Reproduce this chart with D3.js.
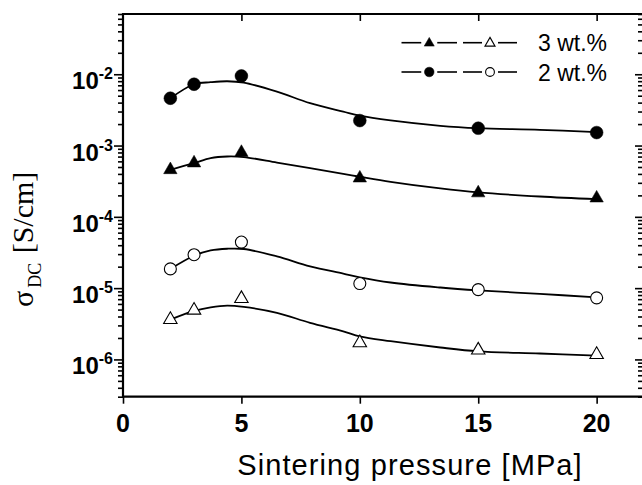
<!DOCTYPE html>
<html>
<head>
<meta charset="utf-8">
<script src="https://cdn.jsdelivr.net/npm/d3@7"></script>
<style>
  html, body { margin: 0; padding: 0; background: #fff; }
  svg { display: block; }
</style>
</head>
<body>
<div id="chart"></div>
<script>
// Sintering pressure vs DC conductivity (log scale)

const pressure = [2, 3, 5, 10, 15, 20];

// measured points
const wt2Filled = [4.61e-3, 7.24e-3, 9.47e-3, 2.24e-3, 1.75e-3, 1.52e-3];
const wt3Filled = [4.57e-4, 5.68e-4, 7.98e-4, 3.49e-4, 2.16e-4, 1.83e-4];
const wt2Open = [1.86e-5, 2.94e-5, 4.43e-5, 1.16e-5, 9.53e-6, 7.3e-6];
const wt3Open = [3.62e-6, 4.89e-6, 7.13e-6, 1.71e-6, 1.35e-6, 1.17e-6];

// fitted curves
const fitPressure = [2, 3, 3.7, 4.4, 5.1, 6.5, 7.9, 9.3, 10, 11.3, 13.4, 15, 17.6, 20];
const wt2FilledFit = [4.61e-3, 7.24e-3, 7.73e-3, 7.98e-3, 7.62e-3, 5.70e-3, 3.93e-3, 2.99e-3, 2.62e-3, 2.25e-3, 1.89e-3, 1.75e-3, 1.66e-3, 1.54e-3];
const wt3FilledFit = [4.57e-4, 5.68e-4, 6.67e-4, 7.02e-4, 6.89e-4, 5.78e-4, 4.82e-4, 4.0e-4, 3.65e-4, 3.1e-4, 2.5e-4, 2.2e-4, 1.93e-4, 1.77e-4];
const wt2OpenFit = [1.86e-5, 2.85e-5, 3.38e-5, 3.57e-5, 3.54e-5, 2.79e-5, 2.02e-5, 1.6e-5, 1.42e-5, 1.2e-5, 1.02e-5, 9.3e-6, 8.3e-6, 7.43e-6];
const wt3OpenFit = [3.62e-6, 4.8e-6, 5.38e-6, 5.69e-6, 5.45e-6, 4.5e-6, 3.26e-6, 2.48e-6, 2.1e-6, 1.8e-6, 1.47e-6, 1.3e-6, 1.21e-6, 1.13e-6];

const xTicks = [0, 5, 10, 15, 20];
const yMajorExp = [-6, -5, -4, -3, -2];
const legendLabels = ['3 wt.%', '2 wt.%'];

const width = 642, height = 485;
const plot = { left: 123, right: 644, top: 14, bottom: 396.7 };

const svg = d3.select('#chart').append('svg')
    .attr('width', width)
    .attr('height', height);

const x = d3.scaleLinear().domain([0, 22]).range([plot.left, plot.right]);
const y = d3.scaleLog().domain([3e-7, 7e-2]).range([plot.bottom, plot.top]);

const sans = 'Liberation Sans, Arial, sans-serif';
const serif = 'Liberation Serif, Times New Roman, serif';

// ---- axes ----
const yMinor = y.ticks().filter(v => Math.abs(Math.log10(v) - Math.round(Math.log10(v))) > 1e-6);
const yMajor = yMajorExp.map(e => Math.pow(10, e));

function styleAxis(g) {
    g.select('.domain').remove();
    g.selectAll('line').attr('stroke', '#000').attr('stroke-width', 1.6);
}

// left minor + major
svg.append('g').attr('transform', `translate(${plot.left},0)`)
    .call(d3.axisLeft(y).tickValues(yMinor).tickSize(5).tickFormat(''))
    .call(styleAxis);
svg.append('g').attr('transform', `translate(${plot.left},0)`)
    .call(d3.axisLeft(y).tickValues(yMajor).tickSize(9).tickFormat(''))
    .call(styleAxis);

// right (inward)
svg.append('g').attr('transform', `translate(${plot.right - 2},0)`)
    .call(d3.axisLeft(y).tickValues(yMinor).tickSize(4).tickFormat(''))
    .call(styleAxis);
svg.append('g').attr('transform', `translate(${plot.right - 2},0)`)
    .call(d3.axisLeft(y).tickValues(yMajor).tickSize(7).tickFormat(''))
    .call(styleAxis);

// bottom
svg.append('g').attr('transform', `translate(0,${plot.bottom})`)
    .call(d3.axisBottom(x).tickValues(xTicks).tickSize(7).tickFormat(''))
    .call(styleAxis);
// top (inward)
svg.append('g').attr('transform', `translate(0,${plot.top})`)
    .call(d3.axisBottom(x).tickValues(xTicks.slice(1)).tickSize(7).tickFormat(''))
    .call(styleAxis);

// frame lines
svg.append('line').attr('x1', plot.left).attr('x2', plot.left).attr('y1', plot.top - 1).attr('y2', plot.bottom + 1)
    .attr('stroke', '#000').attr('stroke-width', 2.2);
svg.append('line').attr('x1', plot.left - 1).attr('x2', plot.right).attr('y1', plot.bottom).attr('y2', plot.bottom)
    .attr('stroke', '#000').attr('stroke-width', 2.2);
svg.append('line').attr('x1', plot.left - 1).attr('x2', plot.right).attr('y1', plot.top).attr('y2', plot.top)
    .attr('stroke', '#000').attr('stroke-width', 2.2);
svg.append('line').attr('x1', plot.right).attr('x2', plot.right).attr('y1', plot.top).attr('y2', plot.bottom)
    .attr('stroke', '#000').attr('stroke-width', 2.2);

// x tick labels
svg.selectAll('.xlab').data(xTicks).enter().append('text')
    .attr('class', 'xlab')
    .attr('x', d => x(d))
    .attr('y', 432)
    .attr('text-anchor', 'middle')
    .attr('font-family', sans)
    .attr('font-weight', 'bold')
    .attr('font-size', '25px')
    .text(d => d);

// y tick labels 10^n
const ylab = svg.selectAll('.ylab').data(yMajorExp).enter().append('text')
    .attr('class', 'ylab')
    .attr('x', 113)
    .attr('y', d => y(Math.pow(10, d)) + 15)
    .attr('text-anchor', 'end')
    .attr('font-family', sans)
    .attr('font-weight', 'bold');
ylab.append('tspan').attr('font-size', '24px').text('10');
ylab.append('tspan').attr('font-size', '16px').attr('dy', -10).text(d => d);

// axis titles
svg.append('text')
    .attr('x', 410)
    .attr('y', 475)
    .attr('text-anchor', 'middle')
    .attr('font-family', sans)
    .attr('font-size', '29px')
    .attr('letter-spacing', '1.1px')
    .text('Sintering pressure [MPa]');

const yt = svg.append('text')
    .attr('transform', 'translate(33,307) rotate(-90)')
    .attr('font-family', serif)
    .attr('font-size', '30px');
yt.append('tspan').text('σ');
yt.append('tspan').attr('font-size', '18px').attr('dx', 3).attr('dy', 8).text('DC');
yt.append('tspan').attr('dy', -8).attr('dx', 2).text(' [S/cm]');

// ---- curves ----
const line = d3.line()
    .x(d => x(d[0]))
    .y(d => y(d[1]))
    .curve(d3.curveCatmullRom.alpha(0.5));

[wt2FilledFit, wt3FilledFit, wt2OpenFit, wt3OpenFit].forEach(vals => {
    svg.append('path')
        .attr('d', line(fitPressure.map((p, i) => [p, vals[i]])))
        .attr('fill', 'none')
        .attr('stroke', '#000')
        .attr('stroke-width', 1.8);
});

// ---- markers ----
const triSize = 78;
const series = [
    { vals: wt2Filled, shape: 'circle', filled: true },
    { vals: wt3Filled, shape: 'triangle', filled: true },
    { vals: wt2Open, shape: 'circle', filled: false },
    { vals: wt3Open, shape: 'triangle', filled: false }
];

function drawMarker(g, shape, filled, cx, cy, big) {
    if (shape === 'circle') {
        g.append('circle')
            .attr('cx', cx).attr('cy', cy)
            .attr('r', big ? (filled ? 6.4 : 6.0) : (filled ? 4.8 : 4.4))
            .attr('fill', filled ? '#000' : '#fff')
            .attr('stroke', '#000')
            .attr('stroke-width', filled ? 0.5 : 1.1);
    } else {
        g.append('path')
            .attr('d', d3.symbol(d3.symbolTriangle, big ? triSize : 44)())
            .attr('transform', `translate(${cx},${cy})`)
            .attr('fill', filled ? '#000' : '#fff')
            .attr('stroke', '#000')
            .attr('stroke-width', filled ? 0.5 : 1.1);
    }
}

series.forEach(s => {
    const g = svg.append('g');
    pressure.forEach((p, i) => drawMarker(g, s.shape, s.filled, x(p), y(s.vals[i]), true));
});

// ---- legend ----
const legendRows = [
    { label: legendLabels[0], shape: 'triangle', ly: 42.7 },
    { label: legendLabels[1], shape: 'circle', ly: 72 }
];
legendRows.forEach(r => {
    const g = svg.append('g');
    [[401.5, 457, true], [463, 517, false]].forEach(([x0, x1, filled]) => {
        const mid = (x0 + x1) / 2;
        g.append('line').attr('x1', x0).attr('x2', mid - 8).attr('y1', r.ly).attr('y2', r.ly)
            .attr('stroke', '#000').attr('stroke-width', 1.6);
        g.append('line').attr('x1', mid + 8).attr('x2', x1).attr('y1', r.ly).attr('y2', r.ly)
            .attr('stroke', '#000').attr('stroke-width', 1.6);
        drawMarker(g, r.shape, filled, mid, r.ly + (r.shape === 'triangle' ? 0.5 : 0), false);
    });
    g.append('text')
        .attr('x', 538)
        .attr('y', r.ly + 8.5)
        .attr('font-family', sans)
        .attr('font-size', '23px')
        .text(r.label);
});
</script>
</body>
</html>
